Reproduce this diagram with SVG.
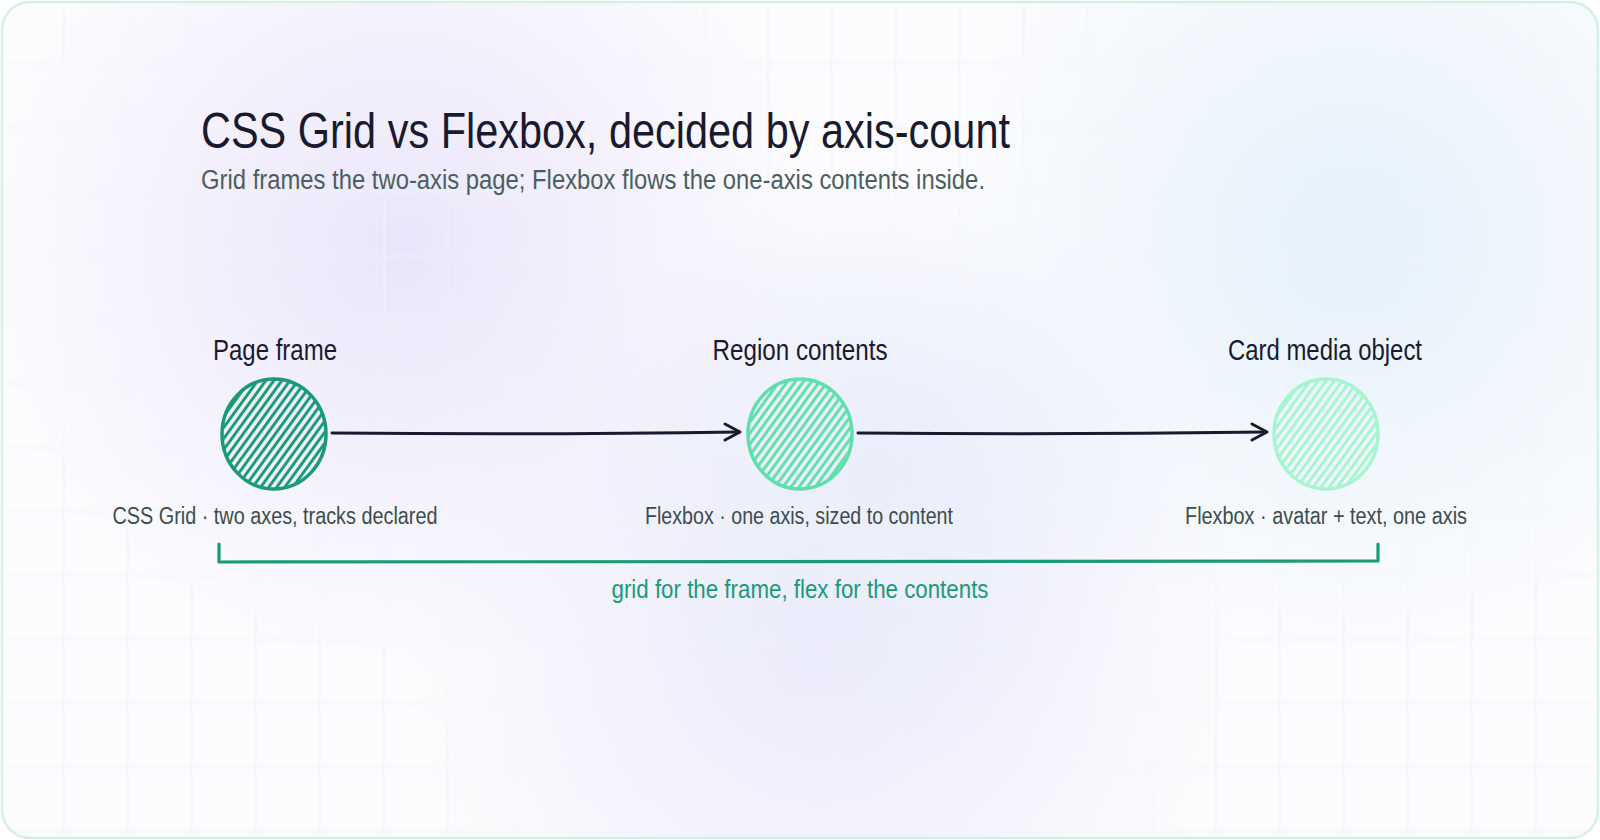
<svg xmlns="http://www.w3.org/2000/svg" width="1600" height="840" viewBox="0 0 1600 840">
<defs>
<style>
.title{font-family:"Liberation Sans","DejaVu Sans",sans-serif;font-size:50px;fill:#1a1a2e}
.sub{font-family:"Liberation Sans","DejaVu Sans",sans-serif;font-size:27px;fill:#4a605e}
.lbl{font-family:"Liberation Sans","DejaVu Sans",sans-serif;font-size:29px;fill:#1a1a2e;text-anchor:middle}
.cap{font-family:"Liberation Sans","DejaVu Sans",sans-serif;font-size:23px;fill:#3d4d4c;text-anchor:middle}
.brk{font-family:"Liberation Sans","DejaVu Sans",sans-serif;font-size:25px;fill:#1a9a78;text-anchor:middle}
.edge{fill:none;stroke:#1a1a2e;stroke-width:3;stroke-linecap:round;stroke-linejoin:round}
.grid{stroke:#f2f3f8;stroke-width:1}
</style>
<radialGradient id="bgL" cx="400" cy="250" r="420" gradientUnits="userSpaceOnUse">
<stop offset="0" stop-color="#ebe5fb"/><stop offset="1" stop-color="#ebe5fb" stop-opacity="0"/>
</radialGradient>
<radialGradient id="bgR" cx="1350" cy="240" r="420" gradientUnits="userSpaceOnUse">
<stop offset="0" stop-color="#e5f1fb"/><stop offset="1" stop-color="#e5f1fb" stop-opacity="0"/>
</radialGradient>
<radialGradient id="bgB" cx="820" cy="640" r="420" gradientUnits="userSpaceOnUse">
<stop offset="0" stop-color="#eceafb"/><stop offset="1" stop-color="#eceafb" stop-opacity="0"/>
</radialGradient>
<radialGradient id="bgC" cx="880" cy="470" r="300" gradientUnits="userSpaceOnUse">
<stop offset="0" stop-color="#eaeefb"/><stop offset="1" stop-color="#eaeefb" stop-opacity="0"/>
</radialGradient>
<pattern id="hatch1" width="6.5" height="6.5" patternUnits="userSpaceOnUse" patternTransform="rotate(-54)">
<line x1="0" y1="3.25" x2="6.5" y2="3.25" stroke="#1a9a78" stroke-width="3"/>
</pattern>
<pattern id="hatch2" width="6.5" height="6.5" patternUnits="userSpaceOnUse" patternTransform="rotate(-54)">
<line x1="0" y1="3.25" x2="6.5" y2="3.25" stroke="#5fdfaa" stroke-width="3"/>
</pattern>
<pattern id="hatch3" width="6.5" height="6.5" patternUnits="userSpaceOnUse" patternTransform="rotate(-54)">
<line x1="0" y1="3.25" x2="6.5" y2="3.25" stroke="#a6f5cf" stroke-width="3"/>
</pattern>
<clipPath id="frame"><rect x="2" y="2" width="1596" height="836" rx="28"/></clipPath>
</defs>

<g id="background" clip-path="url(#frame)">
<rect x="0" y="0" width="1600" height="840" fill="#fcfcfe"/>
<rect x="0" y="0" width="1600" height="840" fill="url(#bgL)"/>
<rect x="0" y="0" width="1600" height="840" fill="url(#bgR)"/>
<rect x="0" y="0" width="1600" height="840" fill="url(#bgB)"/>
<rect x="0" y="0" width="1600" height="840" fill="url(#bgC)"/>
<g class="grid">
<line x1="64" y1="0" x2="64" y2="840"/><line x1="128" y1="0" x2="128" y2="840"/><line x1="192" y1="0" x2="192" y2="840"/><line x1="256" y1="0" x2="256" y2="840"/><line x1="320" y1="0" x2="320" y2="840"/><line x1="384" y1="0" x2="384" y2="840"/><line x1="448" y1="0" x2="448" y2="840"/><line x1="512" y1="0" x2="512" y2="840"/><line x1="576" y1="0" x2="576" y2="840"/><line x1="640" y1="0" x2="640" y2="840"/><line x1="704" y1="0" x2="704" y2="840"/><line x1="768" y1="0" x2="768" y2="840"/><line x1="832" y1="0" x2="832" y2="840"/><line x1="896" y1="0" x2="896" y2="840"/><line x1="960" y1="0" x2="960" y2="840"/><line x1="1024" y1="0" x2="1024" y2="840"/><line x1="1088" y1="0" x2="1088" y2="840"/><line x1="1152" y1="0" x2="1152" y2="840"/><line x1="1216" y1="0" x2="1216" y2="840"/><line x1="1280" y1="0" x2="1280" y2="840"/><line x1="1344" y1="0" x2="1344" y2="840"/><line x1="1408" y1="0" x2="1408" y2="840"/><line x1="1472" y1="0" x2="1472" y2="840"/><line x1="1536" y1="0" x2="1536" y2="840"/>
<line x1="0" y1="64" x2="1600" y2="64"/><line x1="0" y1="128" x2="1600" y2="128"/><line x1="0" y1="192" x2="1600" y2="192"/><line x1="0" y1="256" x2="1600" y2="256"/><line x1="0" y1="320" x2="1600" y2="320"/><line x1="0" y1="384" x2="1600" y2="384"/><line x1="0" y1="448" x2="1600" y2="448"/><line x1="0" y1="512" x2="1600" y2="512"/><line x1="0" y1="576" x2="1600" y2="576"/><line x1="0" y1="640" x2="1600" y2="640"/><line x1="0" y1="704" x2="1600" y2="704"/><line x1="0" y1="768" x2="1600" y2="768"/><line x1="0" y1="832" x2="1600" y2="832"/>
</g>
</g>
<rect x="2" y="2" width="1596" height="836" rx="28" fill="none" stroke="#d3f0e5" stroke-width="2.5"/>

<g id="header">
<text class="title" x="201" y="148" textLength="809" lengthAdjust="spacingAndGlyphs">CSS Grid vs Flexbox, decided by axis-count</text>
<text class="sub" x="201" y="189" textLength="784" lengthAdjust="spacingAndGlyphs">Grid frames the two-axis page; Flexbox flows the one-axis contents inside.</text>
</g>

<g id="connectors">
<path class="edge" d="M332 433 Q 540 435 739 432"/>
<path class="edge" d="M725 424 L740 432 L725 440"/>
<path class="edge" d="M858 433 Q 1060 435 1266 432"/>
<path class="edge" d="M1252 424 L1267 432 L1252 440"/>
</g>

<g id="node-page-frame">
<text class="lbl" x="275" y="360" textLength="124" lengthAdjust="spacingAndGlyphs">Page frame</text>
<ellipse cx="274" cy="434" rx="51" ry="54" fill="url(#hatch1)"/>
<ellipse cx="274" cy="434" rx="52" ry="55" fill="none" stroke="#1a9a78" stroke-width="3.5"/>
<text class="cap" x="275" y="524" textLength="325" lengthAdjust="spacingAndGlyphs">CSS Grid · two axes, tracks declared</text>
</g>

<g id="node-region-contents">
<text class="lbl" x="800" y="360" textLength="175" lengthAdjust="spacingAndGlyphs">Region contents</text>
<ellipse cx="800" cy="434" rx="51" ry="54" fill="url(#hatch2)"/>
<ellipse cx="800" cy="434" rx="52" ry="55" fill="none" stroke="#5fdfaa" stroke-width="3.5"/>
<text class="cap" x="799" y="524" textLength="308" lengthAdjust="spacingAndGlyphs">Flexbox · one axis, sized to content</text>
</g>

<g id="node-card-media">
<text class="lbl" x="1325" y="360" textLength="194" lengthAdjust="spacingAndGlyphs">Card media object</text>
<ellipse cx="1326" cy="434" rx="51" ry="54" fill="url(#hatch3)"/>
<ellipse cx="1326" cy="434" rx="52" ry="55" fill="none" stroke="#a6f5cf" stroke-width="3.5"/>
<text class="cap" x="1326" y="524" textLength="282" lengthAdjust="spacingAndGlyphs">Flexbox · avatar + text, one axis</text>
</g>

<g id="bracket">
<path d="M219 544 L219 562 L1378 561 L1378 544" fill="none" stroke="#1a9a78" stroke-width="3.2" stroke-linecap="round" stroke-linejoin="round"/>
<text class="brk" x="800" y="598" textLength="377" lengthAdjust="spacingAndGlyphs">grid for the frame, flex for the contents</text>
</g>
</svg>
